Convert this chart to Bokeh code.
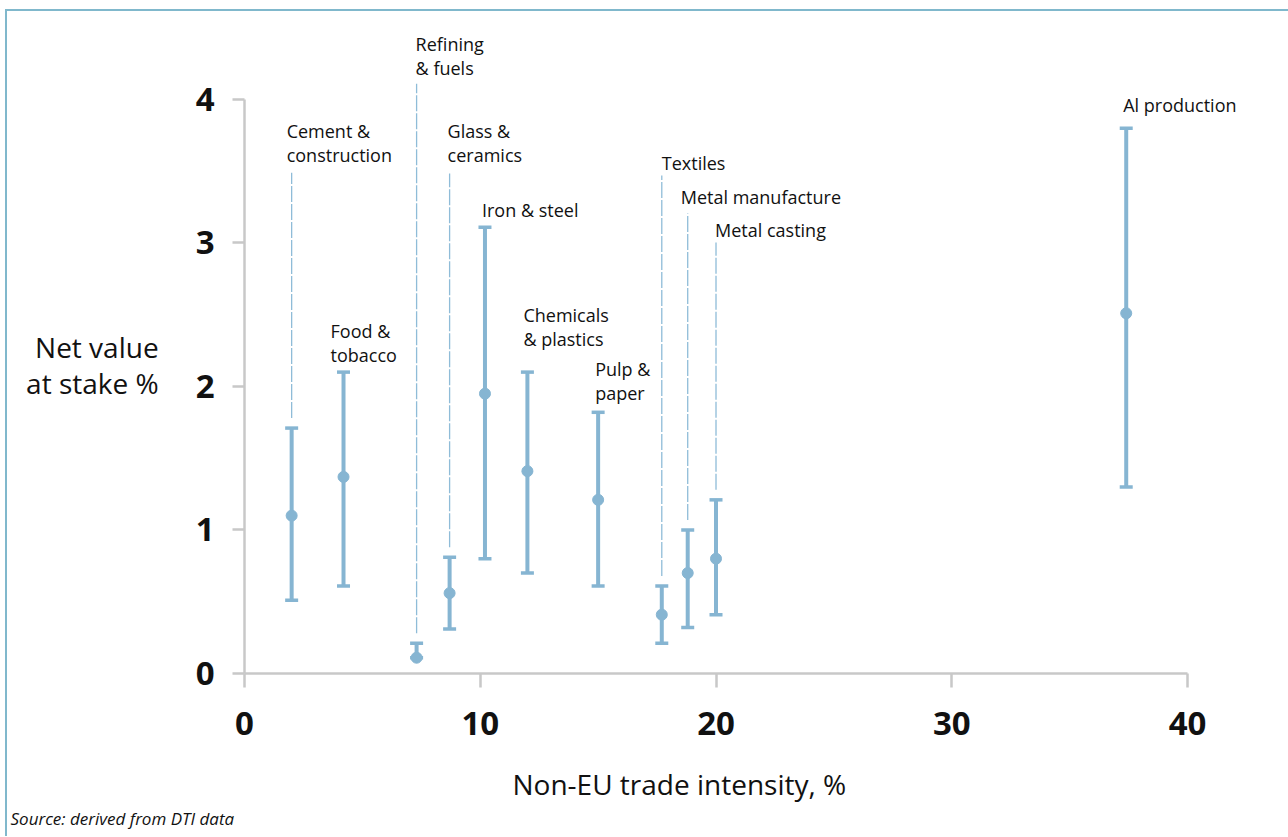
from bokeh.plotting import figure
from bokeh.models import Range1d, FixedTicker, Title
from bokeh.core.properties import value
from bokeh.embed import file_html
from bokeh.resources import INLINE

# ---- data ----
sectors = ["Cement &\nconstruction", "Food &\ntobacco", "Refining\n& fuels", "Glass &\nceramics",
           "Iron & steel", "Chemicals\n& plastics", "Pulp &\npaper", "Textiles",
           "Metal manufacture", "Metal casting", "Al production"]
trade_intensity = [2.0, 4.2, 7.3, 8.7, 10.2, 12.0, 15.0, 17.7, 18.8, 20.0, 37.4]
nvas_mid = [1.1, 1.37, 0.11, 0.56, 1.95, 1.41, 1.21, 0.41, 0.70, 0.80, 2.51]
nvas_low = [0.51, 0.61, 0.11, 0.31, 0.80, 0.70, 0.61, 0.21, 0.32, 0.41, 1.30]
nvas_high = [1.71, 2.10, 0.21, 0.81, 3.11, 2.10, 1.82, 0.61, 1.00, 1.21, 3.80]
x_ticks = [0, 10, 20, 30, 40]
y_ticks = [0, 1, 2, 3, 4]

# ---- label layout (leader line tops, label gaps / offsets in px) ----
leader_top = [3.49, None, 4.11, 3.484, None, None, None, 3.47, 3.206, 3.003, None]
label_gap_px = [11, 10, 9, 11, 10, 26, 12, 5, 9, 6, 16]
label_dx_px = [-5, -13, -1, -2, -3, -4, -3, 0, -7, -1, -3]

BLUE = "#86b5d2"
LEADER = "#8fbcd8"
AXIS = "#c8c8c8"
FONT = "Open Sans"
INK = "#111111"

p = figure(width=1288, height=836, output_backend="svg", toolbar_location=None,
           x_range=Range1d(0, 43.52), y_range=Range1d(0, 4.55),
           min_border_left=244, min_border_right=18, min_border_top=20, min_border_bottom=163)
p.styles = {"box-shadow": "inset 5px 9px 0 0 #ffffff, inset 7px 11px 0 0 #80b8cc"}
p.border_fill_color = None
p.background_fill_color = None
p.outline_line_color = None
p.grid.visible = False

for ax, ticks in ((p.xaxis[0], x_ticks), (p.yaxis[0], y_ticks)):
    ax.ticker = FixedTicker(ticks=ticks)
    ax.bounds = (ticks[0], ticks[-1])
    ax.axis_line_color = AXIS
    ax.axis_line_width = 2.5
    ax.major_tick_line_color = AXIS
    ax.major_tick_line_width = 2.5
    ax.major_tick_in = 0
    ax.minor_tick_line_color = None
    ax.major_label_text_font = FONT
    ax.major_label_text_font_style = "bold"
    ax.major_label_text_font_size = "33px"
    ax.major_label_text_color = INK
p.xaxis.major_tick_out = 14
p.yaxis.major_tick_out = 12
p.xaxis.major_label_standoff = 24
p.yaxis.major_label_standoff = 18

# y axis title (horizontal, two lines)
p.yaxis.axis_label = "\nNet value\nat stake %"
p.yaxis.axis_label_orientation = "horizontal"
p.yaxis.axis_label_text_font = FONT
p.yaxis.axis_label_text_font_style = "normal"
p.yaxis.axis_label_text_font_size = "28px"
p.yaxis.axis_label_text_color = INK
p.yaxis.axis_label_text_align = "left"
p.yaxis.axis_label_text_line_height = 0.95
p.yaxis.axis_label_standoff = 34

# x axis title and source as titles below (a blank spacer keeps the gap under the ticks)
p.add_layout(Title(text=" ", text_font_size="10px", standoff=10), "below")
p.add_layout(Title(text="Non-EU trade intensity, %", align="left", offset=268,
                   text_font=FONT, text_font_style="normal", text_font_size="28px",
                   text_color=INK, standoff=4), "below")
p.add_layout(Title(text="Source: derived from DTI data", align="left", offset=-234,
                   text_font=FONT, text_font_style="italic", text_font_size="17px",
                   text_color=INK, standoff=0), "below")

# leader lines
lx, ly0, ly1 = [], [], []
for x, top, hi in zip(trade_intensity, leader_top, nvas_high):
    if top is not None:
        lx.append(x); ly0.append(hi + 0.07); ly1.append(top)
p.segment(x0=lx, y0=ly0, x1=lx, y1=ly1, line_color=LEADER, line_width=1.3, line_dash="16 2")

# error bars
p.segment(x0=trade_intensity, y0=nvas_low, x1=trade_intensity, y1=nvas_high,
          line_color=BLUE, line_width=4)
p.scatter(x=trade_intensity + trade_intensity, y=nvas_low + nvas_high, marker="dash",
          size=13, line_color=BLUE, line_width=3.5)
p.scatter(x=trade_intensity, y=nvas_mid, marker="circle", size=11,
          fill_color=BLUE, line_color=BLUE)

# sector labels
anchors = [t if t is not None else h for t, h in zip(leader_top, nvas_high)]
for name, x, a, gap, dx in zip(sectors, trade_intensity, anchors, label_gap_px, label_dx_px):
    p.text(x=[x], y=[a], text=[name], x_offset=dx, y_offset=-gap + 5,
           text_baseline="bottom", text_align="left", text_font=value(FONT),
           text_font_size="18px", text_color=INK, text_line_height=1.0)

open("out.html", "w").write(file_html(p, INLINE))
